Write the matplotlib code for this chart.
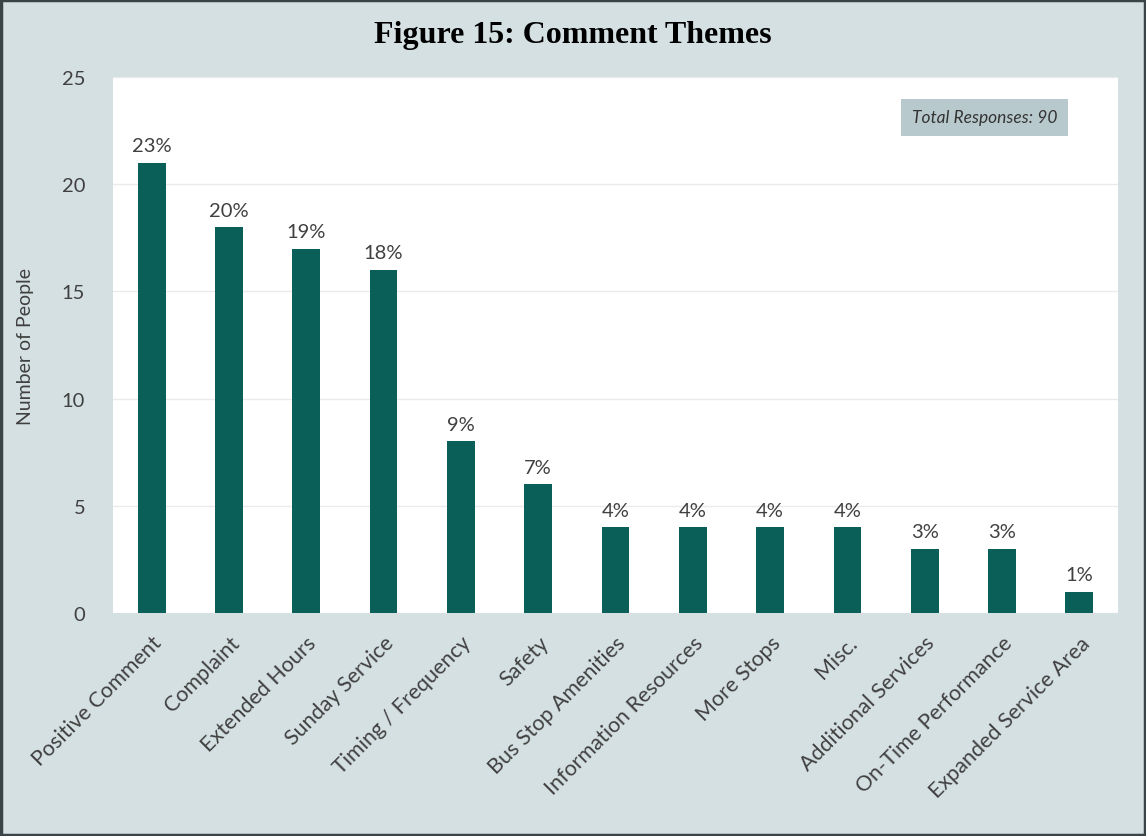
import matplotlib.pyplot as plt
import numpy as np

# comment theme counts
themes = ["Positive Comment", "Complaint", "Extended Hours", "Sunday Service",
          "Timing / Frequency", "Safety", "Bus Stop Amenities",
          "Information Resources", "More Stops", "Misc.",
          "Additional Services", "On-Time Performance", "Expanded Service Area"]
people = [21, 18, 17, 16, 8, 6, 4, 4, 4, 4, 3, 3, 1]
total_responses = 90

bg = "#d5e0e3"
bar_color = "#0b5f59"
text_color = "#404040"

plt.rcParams['font.family'] = ['Lato', 'DejaVu Sans']

fig = plt.figure(figsize=(11.46, 8.37), dpi=100, facecolor=bg)
ax = fig.add_axes([0.0986, 0.2664, 0.877, 0.6404])
ax.set_facecolor("white")

x = np.arange(len(themes))
bars = ax.bar(x, people, width=0.36, color=bar_color, zorder=3)

for xi, v in zip(x, people):
    pct = round(v / total_responses * 100)
    ax.text(xi, v + 0.4, f"{pct}%", ha="center", va="bottom",
            fontsize=14.5, color=text_color)

ax.set_xlim(-0.5, len(themes) - 0.5)
ax.set_ylim(0, 25)
ax.set_yticks(range(0, 26, 5))
ax.yaxis.grid(True, color="#ebebeb", linewidth=1, zorder=0)
ax.tick_params(axis="y", length=0, pad=20, labelsize=14.5, labelcolor=text_color)
ax.tick_params(axis="x", length=0, pad=14, labelsize=15.5, labelcolor=text_color)
ax.set_xticks(x)
ax.set_xticklabels(themes, rotation=45, ha="right", rotation_mode="anchor")
for s in ax.spines.values():
    s.set_visible(False)

ax.set_ylabel("Number of People", fontsize=14, color=text_color, labelpad=20)

fig.text(0.5, 0.958, "Figure 15: Comment Themes", ha="center", va="center",
         fontsize=23, fontweight="bold", family="Liberation Serif", color="black")

ax.text(0.867, 0.925, "Total Responses: 90", transform=ax.transAxes,
        ha="center", va="center", fontsize=12.5, style="italic", color="#333333",
        bbox=dict(boxstyle="square,pad=0.6", facecolor="#b8c9cd", edgecolor="none"))

# dark frame round the whole figure
fig.patches.append(plt.Rectangle((0.001, 0.001), 0.998, 0.998, transform=fig.transFigure,
                                 fill=False, edgecolor="#3a4446", linewidth=2.5))

fig.savefig("out.png", dpi=100, facecolor=bg)
